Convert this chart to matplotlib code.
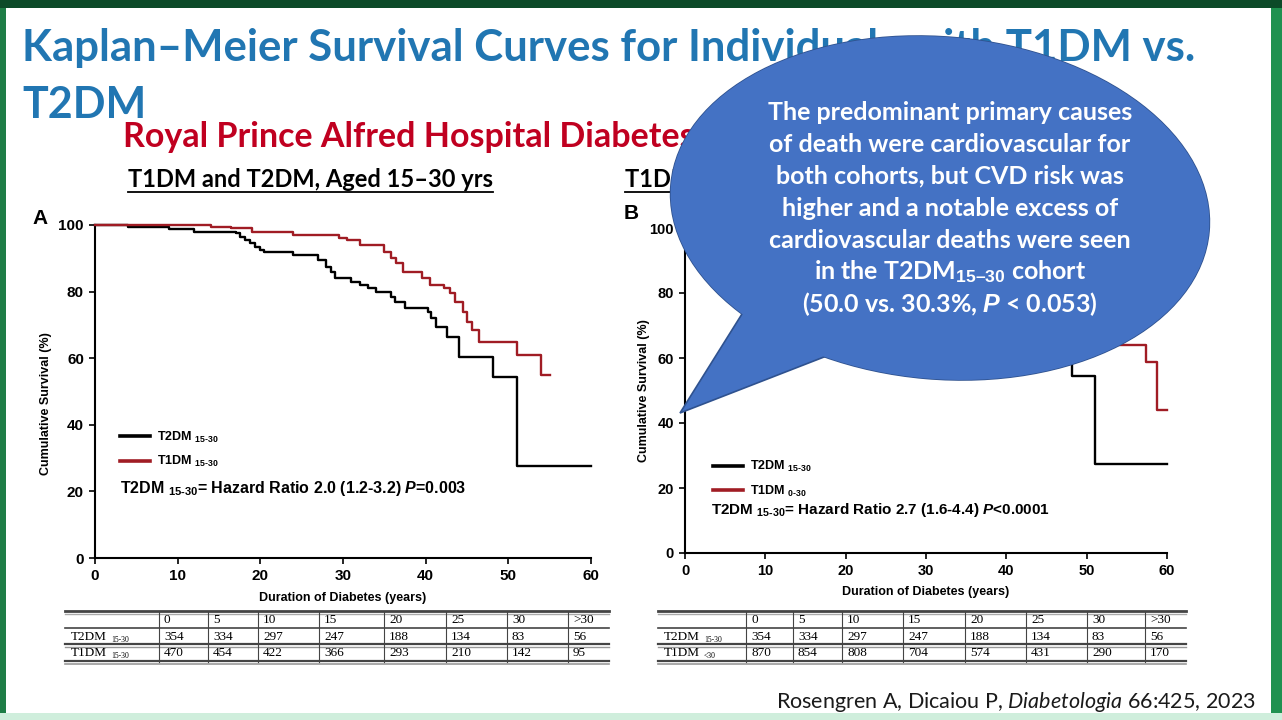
import matplotlib.pyplot as plt
from matplotlib.patches import Ellipse, Polygon, Rectangle

W, H = 1282, 720

# Kaplan-Meier steps (years, % surviving), value holds until next time
t2dm_years = [0, 4, 9, 12, 17, 17.6, 18.2, 18.8, 19.4, 20, 20.5, 24, 27, 28, 28.5, 29,
              31, 32, 33, 34, 35.8, 36.3, 37.5, 40.3, 40.7, 41.2, 42.6, 44, 48.2, 51, 60]
t2dm_surv = [100, 99.3, 98.7, 98, 97.5, 96.5, 95.5, 94.5, 93.5, 92.5, 92, 91, 89.5, 87.5, 86, 84,
             83, 82, 81, 80, 78.5, 77, 75, 74, 72, 69.5, 66.5, 60.5, 54.5, 27.5, 27.5]

t1dm_a_years = [0, 14, 16.5, 19, 24, 29.5, 30.5, 32, 35, 35.8, 36.4, 37.2, 39.5, 40.5,
                42.2, 43, 43.6, 44.5, 45, 45.6, 46.5, 51, 54, 55]
t1dm_a_surv = [100, 99.5, 99, 98, 97, 96, 95.5, 94, 92, 90, 88.5, 86, 84, 82,
               81, 79.5, 77, 74, 71, 68.5, 65, 61, 55, 55]

# panel B: most of the T1DM <30 curve sits behind the callout
t1dm_b_years = [0, 8, 15, 20, 25, 30, 34, 38, 41, 44, 47, 50, 52.1, 57.4, 58.7, 60]
t1dm_b_surv = [100, 99.5, 99, 98, 96.5, 95, 92.5, 90, 87, 83, 79, 75, 64.1, 58.8, 44, 44]

xticks = [0, 10, 20, 30, 40, 50, 60]
yticks = [0, 20, 40, 60, 80, 100]

risk_head = ["0", "5", "10", "15", "20", "25", "30", ">30"]
t2dm_risk = [354, 334, 297, 247, 188, 134, 83, 56]
t1dm_a_risk = [470, 454, 422, 366, 293, 210, 142, 95]
t1dm_b_risk = [870, 854, 808, 704, 574, 431, 290, 170]

bubble_lines = [
    "The predominant primary causes",
    "of death were cardiovascular for",
    "both cohorts, but CVD risk was",
    "higher and a notable excess of",
    "cardiovascular deaths were seen",
    r"in the T2DM$_{\text{15–30}}$ cohort",
]

RED = '#A01C24'
BLUE_T = '#2176B2'
SUB = r"$_{\text{15-30}}$"

plt.rcParams['font.family'] = ['Liberation Sans', 'DejaVu Sans']
plt.rcParams['font.weight'] = 'bold'
plt.rcParams['mathtext.fontset'] = 'custom'
plt.rcParams['mathtext.rm'] = 'Liberation Sans:bold'
plt.rcParams['mathtext.bf'] = 'Liberation Sans:bold'
plt.rcParams['mathtext.it'] = 'Lato:italic:normal'
if 'mathtext.bfit' in plt.rcParams:
    plt.rcParams['mathtext.bfit'] = 'Liberation Sans:italic:bold'
    PB = r"$\mathbfit{P}$"
else:
    PB = r"$\mathit{P}$"


def px_rect(x0, y0, x1, y1):
    return [x0 / W, 1 - y1 / H, (x1 - x0) / W, (y1 - y0) / H]


fig = plt.figure(figsize=(W / 100, H / 100), dpi=100, facecolor='#0C4A28')

# slide background, frame, titles, tables (pixel coordinates)
bg = fig.add_axes([0, 0, 1, 1], zorder=0)
bg.set_xlim(0, W)
bg.set_ylim(H, 0)
bg.axis('off')
bg.add_patch(Rectangle((0, 8), 6, H - 8, color='#1E7D46', lw=0))
bg.add_patch(Rectangle((1271, 8), 11, H - 8, color='#1F9150', lw=0))
bg.add_patch(Rectangle((0, 713), W, 7, color='#CFEEDC', lw=0))
bg.add_patch(Rectangle((6, 8), 1265, 705, color='white', lw=0))

lato = dict(family='Lato', weight='bold')
bg.text(22, 61, "Kaplan–Meier Survival Curves for Individuals with T1DM vs.",
        color=BLUE_T, fontsize=31.5, va='baseline', **lato)
bg.text(22, 118, "T2DM", color=BLUE_T, fontsize=31, va='baseline', **lato)
bg.text(123, 147, "Royal Prince Alfred Hospital Diabetes Clinic",
        color='#C00020', fontsize=24.5, va='baseline', **lato)
bg.text(128, 187, "T1DM and T2DM, Aged 15–30 yrs", color='black', fontsize=17,
        va='baseline', **lato)
bg.plot([128, 493], [192, 192], color='black', lw=1.3)
bg.text(625, 187, "T1DM <30 yrs", color='black', fontsize=17, va='baseline', **lato)
bg.plot([625, 780], [192, 192], color='black', lw=1.3)

bg.text(1256, 708, "Rosengren A, Dicaiou P, $\\mathit{Diabetologia}$ 66:425, 2023",
        family='Lato', weight='normal', fontsize=15.5, ha='right', va='baseline',
        color='#1A1A1A')


def risk_table(x0, x1, edges, rows):
    serif = dict(family='Liberation Serif', weight='normal', fontsize=9.5, va='center')
    bg.plot([x0, x1], [611, 611], color='#444444', lw=2.0)
    bg.plot([x0, x1], [614, 614], color='#AAAAAA', lw=1.0)
    bg.plot([x0, x1], [628, 628], color='#444444', lw=1.2)
    bg.plot([x0, x1], [644, 644], color='#444444', lw=1.6)
    bg.plot([x0, x1], [647, 647], color='#999999', lw=1.0)
    bg.plot([x0, x1], [661, 661], color='#444444', lw=1.6)
    bg.plot([x0, x1], [664, 664], color='#999999', lw=1.2)
    for e in edges:
        bg.plot([e, e], [612, 662], color='#444444', lw=0.8)
    for e, h in zip(edges, risk_head):
        bg.text(e + 5, 620, h, **serif)
    for yc, (name, sub, vals) in zip([636.5, 653.5], rows):
        bg.text(x0 + 6, yc, name, **serif)
        bg.text(x0 + 46, yc + 3, sub, family='Liberation Serif', weight='normal',
                fontsize=5.5, va='center')
        for e, v in zip(edges, vals):
            bg.text(e + 5, yc, str(v), **serif)


risk_table(65, 609, [159, 208, 258, 319, 384, 446, 507, 568],
           [("T2DM", "15-30", t2dm_risk), ("T1DM", "15-30", t1dm_a_risk)])
risk_table(658, 1186, [746, 793, 842, 903, 965, 1026, 1087, 1145],
           [("T2DM", "15-30", t2dm_risk), ("T1DM", "<30", t1dm_b_risk)])


def km_panel(rect, curves, letter, letter_xy, hr_text, hr_xy, hr_fs, leg_xy,
             ylab_xy, xlab_y, tick_fs):
    ax = fig.add_axes(rect, zorder=1)
    ax.set_facecolor('none')
    for yrs, surv, col, lab in curves:
        ax.step(yrs, surv, where='post', color=col, lw=1.7, label=lab,
                clip_on=False, zorder=3)
    ax.set_xlim(0, 60)
    ax.set_ylim(0, 100)
    ax.set_xticks(xticks)
    ax.set_yticks(yticks)
    for s in ['top', 'right']:
        ax.spines[s].set_visible(False)
    for s in ['left', 'bottom']:
        ax.spines[s].set_linewidth(1.5)
    ax.tick_params(length=4, width=1.2, labelsize=tick_fs, pad=4)
    ax.set_xlabel("Duration of Diabetes (years)", fontsize=9, fontweight='bold')
    ax.set_ylabel("Cumulative Survival (%)", fontsize=9, fontweight='bold')
    ax.xaxis.set_label_coords(0.5, xlab_y)
    ax.yaxis.set_label_coords(*ylab_xy)
    leg = ax.legend(loc='center left', bbox_to_anchor=leg_xy, frameon=False,
                    fontsize=9, handlelength=2.4, handletextpad=0.6,
                    labelspacing=0.75, borderpad=0, borderaxespad=0)
    for ln in leg.get_lines():
        ln.set_linewidth(2.6)
    ax.text(hr_xy[0], hr_xy[1], hr_text, fontsize=hr_fs, va='center')
    ax.text(letter_xy[0], letter_xy[1], letter, transform=ax.transAxes,
            fontsize=15, ha='center', va='center')
    return ax


km_panel(px_rect(95, 225, 591, 558),
         [(t2dm_years, t2dm_surv, 'black', "T2DM " + SUB),
          (t1dm_a_years, t1dm_a_surv, RED, "T1DM " + SUB)],
         "A", (-0.11, 1.02),
         "T2DM " + SUB + "= Hazard Ratio 2.0 (1.2-3.2) " + PB + "=0.003", (3.0, 21), 11.5,
         (0.05, 0.326), (-0.087, 0.465), -0.103, 11)

km_panel(px_rect(685, 228, 1167, 553),
         [(t2dm_years, t2dm_surv, 'black', "T2DM " + SUB),
          (t1dm_b_years, t1dm_b_surv, RED, "T1DM " + r"$_{\text{0-30}}$")],
         "B", (-0.112, 1.045),
         "T2DM " + SUB + "= Hazard Ratio 2.7 (1.6-4.4) " + PB + "<0.0001", (3.2, 13.2), 11,
         (0.058, 0.228), (-0.073, 0.50), -0.10, 10.5)

# callout bubble on top of everything
top = fig.add_axes([0, 0, 1, 1], zorder=5)
top.set_xlim(0, W)
top.set_ylim(H, 0)
top.axis('off')
face, edge = '#4472C4', '#2F528F'
top.add_patch(Ellipse((940, 208), 540, 342, angle=5, facecolor=face, edgecolor=edge, lw=1.2))
top.add_patch(Polygon([(680, 413), (757, 290), (860, 343)], closed=True,
                      facecolor=face, edgecolor=edge, lw=1.2))
top.add_patch(Ellipse((940, 208), 540, 342, angle=5, facecolor=face, edgecolor='none'))
for i, line in enumerate(bubble_lines):
    top.text(950, 112 + 32 * i, line, color='white', fontsize=18, ha='center',
             va='center', **lato)
top.text(950, 304, "(50.0 vs. 30.3%, " + PB + " < 0.053)", color='white',
         fontsize=18, ha='center', va='center', **lato)

fig.savefig("out.png", dpi=100, facecolor=fig.get_facecolor())
